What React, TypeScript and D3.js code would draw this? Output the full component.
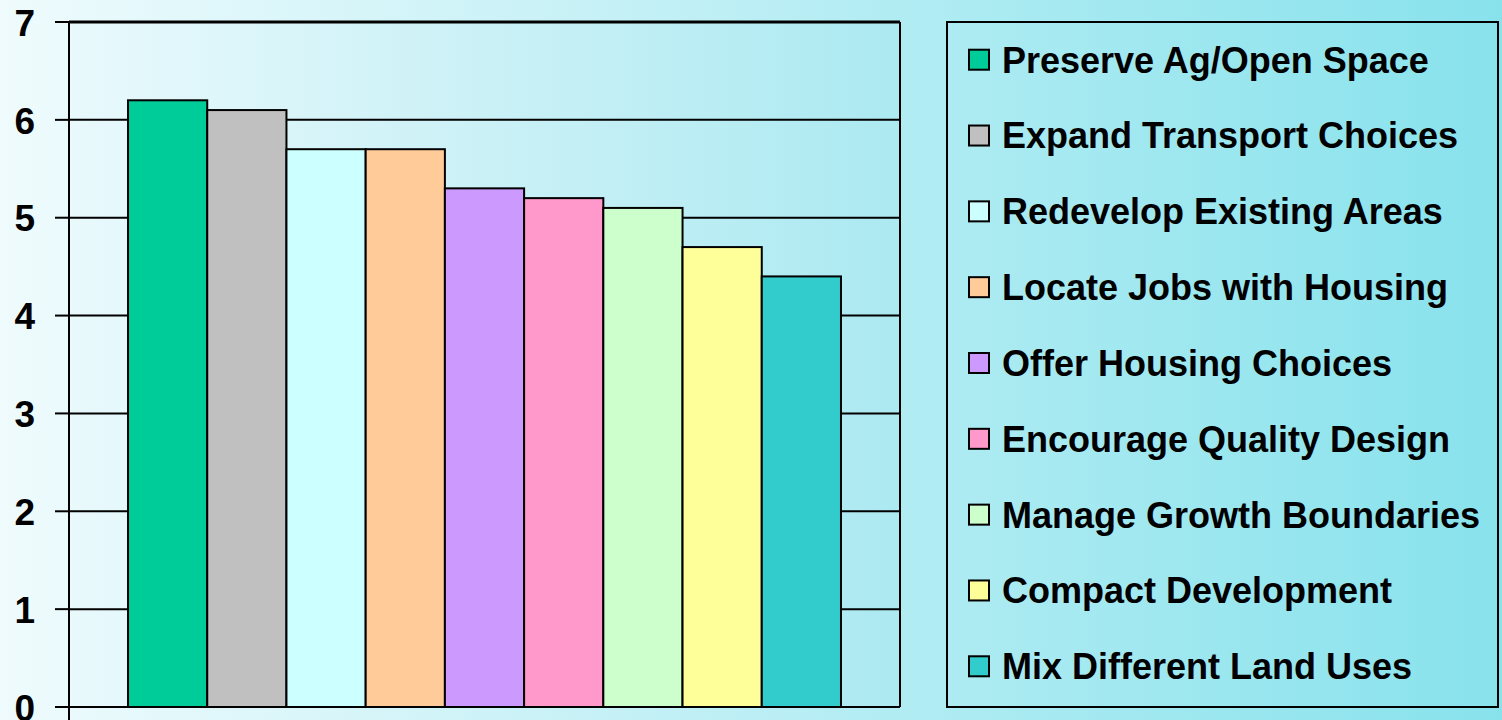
import React from "react";
import * as d3 from "d3";

const categories = [
  "Preserve Ag/Open Space",
  "Expand Transport Choices",
  "Redevelop Existing Areas",
  "Locate Jobs with Housing",
  "Offer Housing Choices",
  "Encourage Quality Design",
  "Manage Growth Boundaries",
  "Compact Development",
  "Mix Different Land Uses",
];
const values = [6.2, 6.1, 5.7, 5.7, 5.3, 5.2, 5.1, 4.7, 4.4];
const colors = ["#00CC99", "#C0C0C0", "#CCFFFF", "#FFCC99", "#CC99FF", "#FF99CC", "#CCFFCC", "#FFFF99", "#33CCCC"];
const yTicks = [0, 1, 2, 3, 4, 5, 6, 7];

const W = 1502, H = 720;
const plot = { left: 69, right: 900, top: 22, bottom: 707 };
const font = "'Liberation Sans', Arial, sans-serif";

export default function App() {
  const y = d3.scaleLinear().domain([0, 7]).range([plot.bottom, plot.top]);
  const x = d3.scaleBand<string>().domain(categories).range([plot.left, plot.right]).paddingInner(0).paddingOuter(0.745);
  const legendY = d3.scaleBand<string>().domain(categories).range([21.8, 704.2]);
  return (
    <svg width={W} height={H} style={{ position: "absolute", left: 0, top: 0 }}>
      <defs>
        <linearGradient id="bg" x1="0" x2="1" y1="0" y2="0">
          <stop offset="0" stopColor="#effbfd" />
          <stop offset="1" stopColor="#88e2ec" />
        </linearGradient>
        <linearGradient id="pa" x1="0" x2="1" y1="0" y2="0">
          <stop offset="0" stopColor="#e9f9fc" />
          <stop offset="1" stopColor="#ace9f1" />
        </linearGradient>
      </defs>
      <rect x={0} y={0} width={W} height={H} fill="url(#bg)" />
      <rect x={plot.left} y={plot.top} width={plot.right - plot.left} height={plot.bottom - plot.top} fill="url(#pa)" />
      {yTicks.filter((t) => t > 0 && t < 7).map((t) => (
        <line key={"g" + t} x1={plot.left} x2={plot.right} y1={y(t)} y2={y(t)} stroke="#000" strokeWidth={2} />
      ))}
      {categories.map((c, i) => (
        <rect key={c} x={x(c)} y={y(values[i])} width={x.bandwidth()} height={y(0) - y(values[i])} fill={colors[i]} stroke="#000" strokeWidth={2} />
      ))}
      <line x1={plot.left} x2={plot.right} y1={plot.top} y2={plot.top} stroke="#000" strokeWidth={3} />
      <line x1={plot.right} x2={plot.right} y1={plot.top} y2={plot.bottom} stroke="#000" strokeWidth={2} />
      <line x1={plot.left} x2={plot.left} y1={plot.top} y2={H} stroke="#000" strokeWidth={2} />
      <line x1={55} x2={plot.right} y1={plot.bottom} y2={plot.bottom} stroke="#000" strokeWidth={2} />
      {yTicks.map((t) => (
        <g key={"t" + t}>
          <line x1={55} x2={plot.left} y1={y(t)} y2={y(t)} stroke="#000" strokeWidth={2} />
          <text x={35} y={y(t)} dy="0.37em" textAnchor="end" fontFamily={font} fontWeight="bold" fontSize={37} fill="#000">{t}</text>
        </g>
      ))}
      <rect x={947} y={22} width={551} height={685} fill="none" stroke="#000" strokeWidth={2} />
      {categories.map((c, i) => {
        const cy = (legendY(c) as number) + legendY.bandwidth() / 2;
        return (
          <g key={"l" + c}>
            <rect x={969} y={cy - 10} width={20} height={20} fill={colors[i]} stroke="#000" strokeWidth={2} />
            <text x={1002} y={cy} dy="0.358em" fontFamily={font} fontWeight="bold" fontSize={36} fill="#000">{c}</text>
          </g>
        );
      })}
    </svg>
  );
}
